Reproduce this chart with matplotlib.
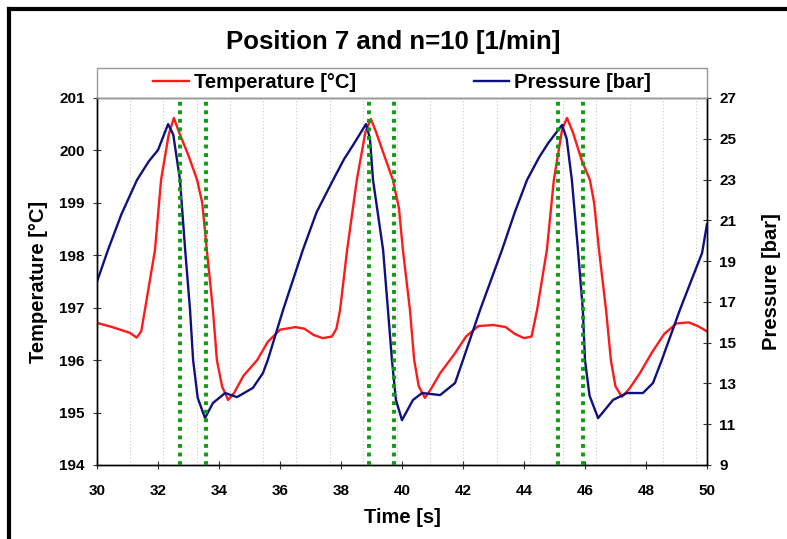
import numpy as np
import matplotlib
matplotlib.use('Agg')
import matplotlib.pyplot as plt
from matplotlib.lines import Line2D
from matplotlib.patches import Rectangle

plt.rcParams['font.family'] = ['Liberation Sans', 'DejaVu Sans']
plt.rcParams['font.weight'] = 'bold'

# temperature trace (left axis)
temp_time = [30.0, 30.5, 31.08, 31.3, 31.45, 31.57, 31.9, 32.1, 32.35, 32.52,
             32.7, 33.0, 33.28, 33.45, 33.6, 33.8, 33.93, 34.1, 34.3, 34.5,
             34.8, 35.25, 35.6, 36.0, 36.5, 36.8, 37.1, 37.4, 37.7, 37.85,
             37.97, 38.2, 38.52, 38.8, 38.98, 39.15, 39.45, 39.7, 39.9, 40.03,
             40.26, 40.4, 40.55, 40.75, 40.95, 41.25, 41.7, 42.1, 42.5, 43.0,
             43.4, 43.7, 44.0, 44.25, 44.43, 44.75, 44.98, 45.25, 45.41, 45.6,
             45.9, 46.16, 46.3, 46.46, 46.69, 46.85, 47.0, 47.21, 47.45, 47.8,
             48.2, 48.6, 49.0, 49.4, 49.7, 50.0]
temp_vals = [196.71, 196.63, 196.52, 196.43, 196.55, 196.96, 198.1, 199.44, 200.3, 200.62,
             200.33, 199.9, 199.44, 199.0, 198.1, 196.96, 196.0, 195.5, 195.24, 195.38,
             195.7, 196.0, 196.35, 196.58, 196.63, 196.6, 196.48, 196.42, 196.45, 196.6,
             196.96, 198.1, 199.44, 200.35, 200.6, 200.35, 199.85, 199.44, 198.9, 198.1,
             196.96, 196.0, 195.5, 195.28, 195.45, 195.75, 196.1, 196.45, 196.65, 196.67,
             196.63, 196.5, 196.42, 196.45, 196.96, 198.1, 199.44, 200.4, 200.62, 200.35,
             199.8, 199.44, 199.0, 198.1, 196.96, 196.0, 195.5, 195.3, 195.45, 195.75,
             196.15, 196.5, 196.7, 196.72, 196.65, 196.55]

# pressure trace (right axis)
pres_time = [30.0, 30.36, 30.8, 31.31, 31.7, 32.0, 32.33, 32.5, 32.72, 32.89,
             33.05, 33.15, 33.3, 33.54, 33.8, 34.2, 34.59, 35.11, 35.44, 35.6,
             36.1, 36.75, 37.2, 37.74, 38.1, 38.4, 38.82, 38.95, 39.05, 39.38,
             39.54, 39.67, 39.8, 40.0, 40.36, 40.66, 41.25, 41.74, 42.0, 42.56,
             43.28, 43.7, 44.1, 44.5, 44.8, 45.25, 45.4, 45.57, 45.77, 45.93,
             46.0, 46.15, 46.43, 46.92, 47.38, 47.9, 48.23, 48.52, 49.11, 49.5,
             49.84, 50.0]
pres_vals = [18.0, 19.55, 21.3, 22.98, 23.9, 24.45, 25.72, 25.2, 22.98, 19.55,
             16.6, 14.15, 12.3, 11.3, 12.04, 12.53, 12.33, 12.78, 13.51, 14.15,
             16.6, 19.55, 21.4, 22.98, 24.0, 24.7, 25.72, 25.0, 22.98, 19.55,
             16.6, 14.15, 12.2, 11.2, 12.19, 12.53, 12.43, 13.02, 14.15, 16.6,
             19.55, 21.4, 22.98, 24.1, 24.8, 25.68, 25.0, 22.98, 19.55, 16.6,
             14.15, 12.4, 11.3, 12.19, 12.53, 12.53, 13.02, 14.15, 16.6, 18.1,
             19.4, 20.8]

# valve markers (green dotted)
marker_times = [32.72, 33.57, 38.93, 39.74, 45.10, 45.92]

# light vertical grid
grid_times = [31.08, 32.17, 33.27, 34.36, 35.45, 36.54, 37.64, 38.73, 39.82,
              40.91, 42.0, 43.1, 44.19, 45.28, 46.37, 47.47, 48.56, 49.65]

fig = plt.figure(figsize=(7.87, 5.39), dpi=100)
ax = fig.add_axes([0.1233, 0.1373, 0.775, 0.6809])
ax2 = ax.twinx()

for g in grid_times:
    ax.axvline(g, color='#c8c8c8', lw=0.8, ls=(0, (1, 2)), zorder=0)

l1, = ax.plot(temp_time, temp_vals, color='#ff1a1a', lw=1.7, label='Temperature [°C]')
l2, = ax2.plot(pres_time, pres_vals, color='#101080', lw=1.7, label='Pressure [bar]')

for m in marker_times:
    ax2.axvline(m, color='#109a10', lw=2.8, ls=(0, (1, 1.2)), zorder=5)

ax.set_xlim(30, 50)
ax.set_ylim(194, 201)
ax2.set_ylim(9, 27)
ax.set_xticks(np.arange(30, 51, 2))
ax.set_yticks(np.arange(194, 202, 1))
ax2.set_yticks(np.arange(9, 28, 2))

for a in (ax, ax2):
    a.tick_params(direction='inout', length=6, width=0.8, color='#333333', labelsize=11)
    for s in a.spines.values():
        s.set_linewidth(1.0)
    a.spines['top'].set_color('#9a9a9a')
ax.tick_params(axis='x', pad=11)
ax.tick_params(axis='y', pad=6)
ax2.tick_params(axis='y', pad=6)

ax.set_xlabel('Time [s]', fontsize=14.5, fontweight='bold')
ax.set_ylabel('Temperature [°C]', fontsize=14.5, fontweight='bold')
ax2.set_ylabel('Pressure [bar]', fontsize=14.5, fontweight='bold')
ax.xaxis.set_label_coords(0.5, -0.118)
ax.yaxis.set_label_coords(-0.080, 0.5)
ax2.yaxis.set_label_coords(1.090, 0.5)

# legend strip above the plot
ax.add_patch(Rectangle((0, 1.0), 1.0, 0.0818, transform=ax.transAxes, fill=False,
                       edgecolor='#9a9a9a', lw=1.0, clip_on=False))
ax2.legend(handles=[l1, l2], loc='center', bbox_to_anchor=(0.5, 1.041), ncol=2,
           frameon=False, fontsize=14.5, handlelength=1.75, handletextpad=0.25,
           columnspacing=5.85)

fig.text(0.5, 0.922, 'Position 7 and n=10 [1/min]', ha='center', va='center',
         fontsize=18.5, fontweight='bold')

# black frame on the left and top
fig.add_artist(Line2D([0.012, 0.012], [0.0, 0.984], transform=fig.transFigure, color='black', lw=3))
fig.add_artist(Line2D([0.012, 1.0], [0.984, 0.984], transform=fig.transFigure, color='black', lw=3))

fig.savefig('out.png', dpi=100)
